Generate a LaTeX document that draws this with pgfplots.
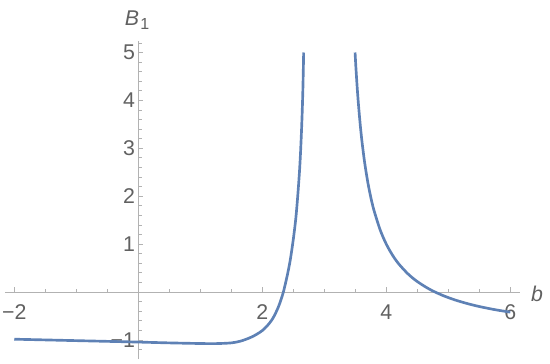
\documentclass[border=0pt]{standalone}
\usepackage{pgfplots}
\pgfplotsset{compat=1.18}
\usepackage{fontspec}
\setmainfont{Liberation Sans}
\definecolor{curve}{rgb}{0.368,0.507,0.710}
\definecolor{axgray}{gray}{0.70}
\definecolor{labgray}{gray}{0.38}
\begin{document}
\begin{tikzpicture}
\begin{axis}[
  scale only axis, width=386pt, height=238.2pt,
  axis lines=middle,
  axis line style={axgray, line width=0.6pt, -},
  xmin=-2.15, xmax=6.15, ymin=-1.4, ymax=5.23,
  xtick={-2,2,4,6}, xticklabels={−2,2,4,6},
  ytick={-1,1,2,3,4,5}, yticklabels={−1,1,2,3,4,5},
  minor xtick={-1.5,-1,-0.5,0.5,1,1.5,2.5,3,3.5,4.5,5,5.5},
  minor ytick={-1.2,-0.8,-0.6,-0.4,-0.2,0.2,0.4,0.6,0.8,1.2,1.4,1.6,1.8,2.2,2.4,2.6,2.8,3.2,3.4,3.6,3.8,4.2,4.4,4.6,4.8,5.2},
  tick align=inside,
  major tick length=3.75pt, minor tick length=2.5pt,
  tick style={axgray, line width=0.6pt},
  ticklabel style={labgray, font=\fontsize{16}{16}\selectfont},
  xticklabel style={yshift=-6pt},
  yticklabel style={xshift=1pt},
  clip=false,
]
\addplot[curve, line width=2pt, smooth, tension=0.5] coordinates {
(-2.0,-0.985) (-1.5,-1.0) (-1.0,-1.015) (-0.5,-1.03) (0.0,-1.045) (0.5,-1.062) (1.0,-1.075) (1.25,-1.077) (1.5,-1.062) (1.65,-1.025) (1.8,-0.955) (1.9,-0.89) (2.0,-0.805) (2.08,-0.705) (2.15,-0.59) (2.2,-0.48) (2.26,-0.31) (2.3,-0.165) (2.34,0.0) (2.4,0.33) (2.45,0.66) (2.5,1.1) (2.54,1.53) (2.57,1.98) (2.6,2.52) (2.62,3.0) (2.64,3.62) (2.655,4.25) (2.667,5.0)
};
\addplot[curve, line width=2pt, smooth, tension=0.5] coordinates {
(3.496,5.0) (3.51,4.681) (3.53,4.278) (3.55,3.929) (3.58,3.485) (3.61,3.115) (3.65,2.709) (3.7,2.302) (3.75,1.976) (3.8,1.710) (3.9,1.300) (4.0,0.999) (4.1,0.770) (4.2,0.588) (4.35,0.378) (4.5,0.218) (4.7,0.056) (4.9,-0.066) (5.1,-0.162) (5.3,-0.239) (5.5,-0.303) (5.75,-0.368) (6.0,-0.421)
};
\node[anchor=base, labgray, font=\fontsize{16}{16}\selectfont, inner sep=0pt] at (axis cs:-0.02,5.574) {\textit{B}\kern1pt\raisebox{-0.42ex}{\fontsize{12}{12}\selectfont 1}};
\node[anchor=base west, labgray, font=\fontsize{16}{16}\selectfont, inner sep=0pt] at (axis cs:6.33,-0.2) {\textit{b}};
\coordinate (bl) at (axis cs:-2.23,-1.482);
\coordinate (tr) at (axis cs:6.64,6.096);
\end{axis}
\pgfresetboundingbox
\useasboundingbox (bl) rectangle (tr);
\end{tikzpicture}
\end{document}
